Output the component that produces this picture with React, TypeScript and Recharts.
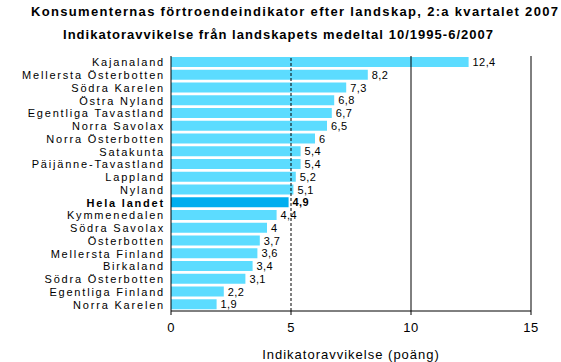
import { Bar, BarChart, Cell, LabelList, ReferenceLine, XAxis, YAxis } from "recharts"

const regions = [
  "Kajanaland",
  "Mellersta Österbotten",
  "Södra Karelen",
  "Östra Nyland",
  "Egentliga Tavastland",
  "Norra Savolax",
  "Norra Österbotten",
  "Satakunta",
  "Päijänne-Tavastland",
  "Lappland",
  "Nyland",
  "Hela landet",
  "Kymmenedalen",
  "Södra Savolax",
  "Österbotten",
  "Mellersta Finland",
  "Birkaland",
  "Södra Österbotten",
  "Egentliga Finland",
  "Norra Karelen",
]

const deviation = [12.4, 8.2, 7.3, 6.8, 6.7, 6.5, 6, 5.4, 5.4, 5.2, 5.1, 4.9, 4.4, 4, 3.7, 3.6, 3.4, 3.1, 2.2, 1.9]

const xTicks = [0, 5, 10, 15]

const highlight = "Hela landet"

const title = "Konsumenternas förtroendeindikator efter landskap, 2:a kvartalet 2007"
const subtitle = "Indikatoravvikelse från landskapets medeltal 10/1995-6/2007"
const xLabel = "Indikatoravvikelse (poäng)"

const data = regions.map((name, i) => ({ name, value: deviation[i] }))

const font = "'Liberation Sans', Arial, sans-serif"

const fmt = (v: number) => String(v).replace(".", ",")

// category labels: old-style wide lettering, right aligned at the axis
function RegionTick({ x, y, payload }: any) {
  const bold = payload.value === highlight
  return (
    <text
      x={x + 2}
      y={y}
      dy={4}
      textAnchor="end"
      fontSize={11}
      letterSpacing={1.8}
      fontFamily={font}
      fontWeight={bold ? "bold" : "normal"}
      fill="#000"
    >
      {payload.value}
    </text>
  )
}

function ValueLabel({ x, y, width, height, value, index }: any) {
  const bold = regions[index] === highlight
  return (
    <text
      x={x + width + 4}
      y={y + height / 2}
      dy={4}
      fontSize={11}
      letterSpacing={0.4}
      fontFamily={font}
      fontWeight={bold ? "bold" : "normal"}
      fill="#000"
    >
      {fmt(value)}
    </text>
  )
}

export default function App() {
  return (
    <div style={{ position: "absolute", left: 0, top: 0, width: 561, height: 362, background: "#fff" }}>
      <svg width={561} height={50} style={{ position: "absolute", left: 0, top: 0 }}>
        <text x={31} y={15.5} textLength={527} lengthAdjust="spacing" fontSize={13} fontWeight="bold" fontFamily={font}>
          {title}
        </text>
        <text x={63} y={38.5} textLength={430} lengthAdjust="spacing" fontSize={13} fontWeight="bold" fontFamily={font}>
          {subtitle}
        </text>
      </svg>
      <BarChart
        style={{ position: "absolute", left: 0, top: 0 }}
        width={561}
        height={362}
        data={data}
        layout="vertical"
        margin={{ top: 56, right: 30, bottom: 3, left: 0 }}
        barSize={10}
      >
        <XAxis
          type="number"
          domain={[0, 15]}
          ticks={xTicks}
          interval={0}
          height={48}
          stroke="#000"
          tickSize={4}
          tickMargin={8}
          tick={{ fill: "#000", fontSize: 13, fontFamily: font, letterSpacing: 0.5 }}
          label={{ value: xLabel, position: "insideBottom", offset: 0, fill: "#000", fontSize: 13, fontFamily: font, letterSpacing: 1 }}
        />
        <XAxis xAxisId="top" orientation="top" type="number" domain={[0, 15]} height={0} tick={false} tickLine={false} stroke="#000" />
        <YAxis
          type="category"
          dataKey="name"
          width={171}
          interval={0}
          tickLine={false}
          stroke="#000"
          tick={<RegionTick />}
        />
        <ReferenceLine x={5} stroke="#000" strokeDasharray="3 2" />
        <ReferenceLine x={10} stroke="#000" />
        <ReferenceLine x={15} stroke="#000" />
        <Bar dataKey="value" isAnimationActive={false}>
          {data.map((d) => (
            <Cell key={d.name} fill={d.name === highlight ? "#00AEEF" : "#5CDCFF"} />
          ))}
          <LabelList dataKey="value" content={<ValueLabel />} />
        </Bar>
      </BarChart>
    </div>
  )
}
